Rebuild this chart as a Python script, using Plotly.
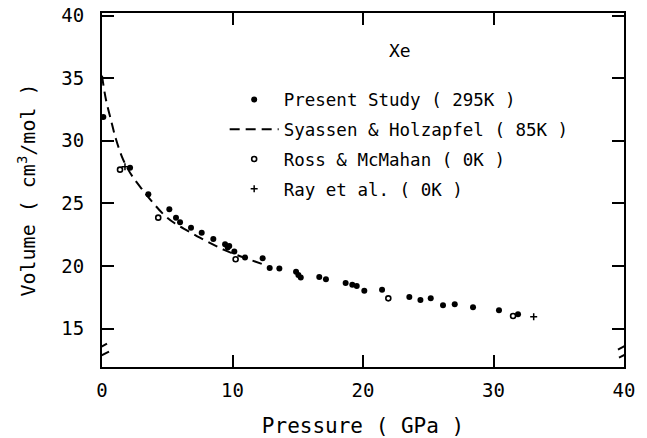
import plotly.graph_objects as go

# ---- data ----
present_p = [0.1, 2.15, 3.55, 5.16, 5.67, 5.98, 6.82, 7.64, 8.53, 9.43, 9.63, 9.75, 10.14,
             10.96, 12.31, 12.85, 13.59, 14.87, 15.05, 15.23, 16.65, 17.16, 18.67, 19.18,
             19.52, 20.1, 21.46, 23.55, 24.4, 25.19, 26.13, 27.03, 28.43, 30.42, 31.88]
present_v = [31.9, 27.85, 25.73, 24.54, 23.87, 23.5, 23.07, 22.67, 22.17, 21.75, 21.48, 21.6, 21.16,
             20.68, 20.63, 19.85, 19.82, 19.55, 19.29, 19.1, 19.13, 18.95, 18.65, 18.52,
             18.41, 18.04, 18.12, 17.53, 17.3, 17.43, 16.87, 16.95, 16.71, 16.47, 16.16]

syassen_p = [0.0, 0.3, 0.7, 1.05, 1.5, 1.9, 2.4, 3.1, 3.95, 4.8, 5.6, 6.6, 7.5, 8.45, 9.35, 10.3, 11.5, 12.6]
syassen_v = [35.2, 33.3, 31.6, 30.2, 28.8, 27.9, 27.05, 26.1, 25.0, 24.05, 23.4, 22.8, 22.27, 21.75, 21.3, 20.9, 20.45, 20.05]

ross_p = [1.38, 4.31, 10.24, 21.94, 31.5]
ross_v = [27.7, 23.87, 20.55, 17.43, 16.02]

ray_p = [1.76, 33.08]
ray_v = [27.93, 15.97]

x_ticks = [0, 10, 20, 30, 40]
y_ticks = [15, 20, 25, 30, 35, 40]

FONT = "DejaVu Sans Mono"

fig = go.Figure()
fig.add_trace(go.Scatter(x=present_p, y=present_v, mode="markers", name="Present Study ( 295K )",
                         legendgroup="a",
                         marker=dict(symbol="circle", size=6, color="black")))
fig.add_trace(go.Scatter(x=syassen_p, y=syassen_v, mode="lines", name="Syassen & Holzapfel ( 85K )",
                         legendgroup="b", line_shape="spline",
                         line=dict(color="black", width=2, dash="10px,6px")))
fig.add_trace(go.Scatter(x=ross_p, y=ross_v, mode="markers", name="Ross & McMahan ( 0K )",
                         legendgroup="c",
                         marker=dict(symbol="circle-open", size=5, color="black", line=dict(width=1.6))))
fig.add_trace(go.Scatter(x=ray_p, y=ray_v, mode="markers", name="Ray et al. ( 0K )",
                         legendgroup="d",
                         marker=dict(symbol="cross-thin", size=5, color="black", line=dict(width=1.5, color="black"))))

axis_common = dict(showline=True, linecolor="black", linewidth=2, mirror="ticks",
                   ticks="inside", ticklen=12, tickwidth=2, tickcolor="black",
                   showgrid=False, zeroline=False, automargin=False,
                   tickfont=dict(family=FONT, size=19, color="black"))

fig.update_xaxes(range=[0, 40], tickvals=x_ticks, ticklabelstandoff=5,
                 title=dict(text="Pressure ( GPa )", font=dict(family=FONT, size=21, color="black"), standoff=23),
                 **axis_common)
fig.update_yaxes(range=[11.95, 40.2], tickvals=y_ticks, ticklabelstandoff=12,
                 title=dict(text="Volume ( cm<sup>3</sup>/mol )", font=dict(family=FONT, size=20, color="black"), standoff=20),
                 **axis_common)

# axis break marks on left and right axes
shapes = []
for xa in [0, 40]:
    shapes.append(dict(type="rect", xref="x", yref="y", xsizemode="pixel", ysizemode="pixel",
                       xanchor=xa, yanchor=13.25, x0=-3, x1=3, y0=-3, y1=3,
                       fillcolor="white", line=dict(width=0), layer="above"))
    shapes.append(dict(type="line", xref="x", yref="y", xsizemode="pixel", ysizemode="pixel",
                       xanchor=xa, yanchor=13.25, x0=-6, x1=5, y0=1, y1=7,
                       line=dict(color="black", width=2), layer="above"))
    shapes.append(dict(type="line", xref="x", yref="y", xsizemode="pixel", ysizemode="pixel",
                       xanchor=xa, yanchor=13.25, x0=-5, x1=7, y0=-7, y1=-1,
                       line=dict(color="black", width=2), layer="above"))

fig.update_layout(
    width=647, height=438,
    margin=dict(l=102, r=23, t=13, b=71, autoexpand=False),
    paper_bgcolor="white", plot_bgcolor="white",
    shapes=shapes,
    showlegend=True,
    legend=dict(x=0.235, y=0.806, xanchor="left", yanchor="top",
                font=dict(family=FONT, size=17.5, color="black"),
                bgcolor="rgba(0,0,0,0)", traceorder="grouped", tracegroupgap=4,
                itemwidth=49),
    annotations=[dict(text="Xe", x=0.57, y=0.895, xref="paper", yref="paper",
                      xanchor="center", yanchor="middle", showarrow=False,
                      font=dict(family=FONT, size=18, color="black"))],
)

fig.write_html("out.html")
